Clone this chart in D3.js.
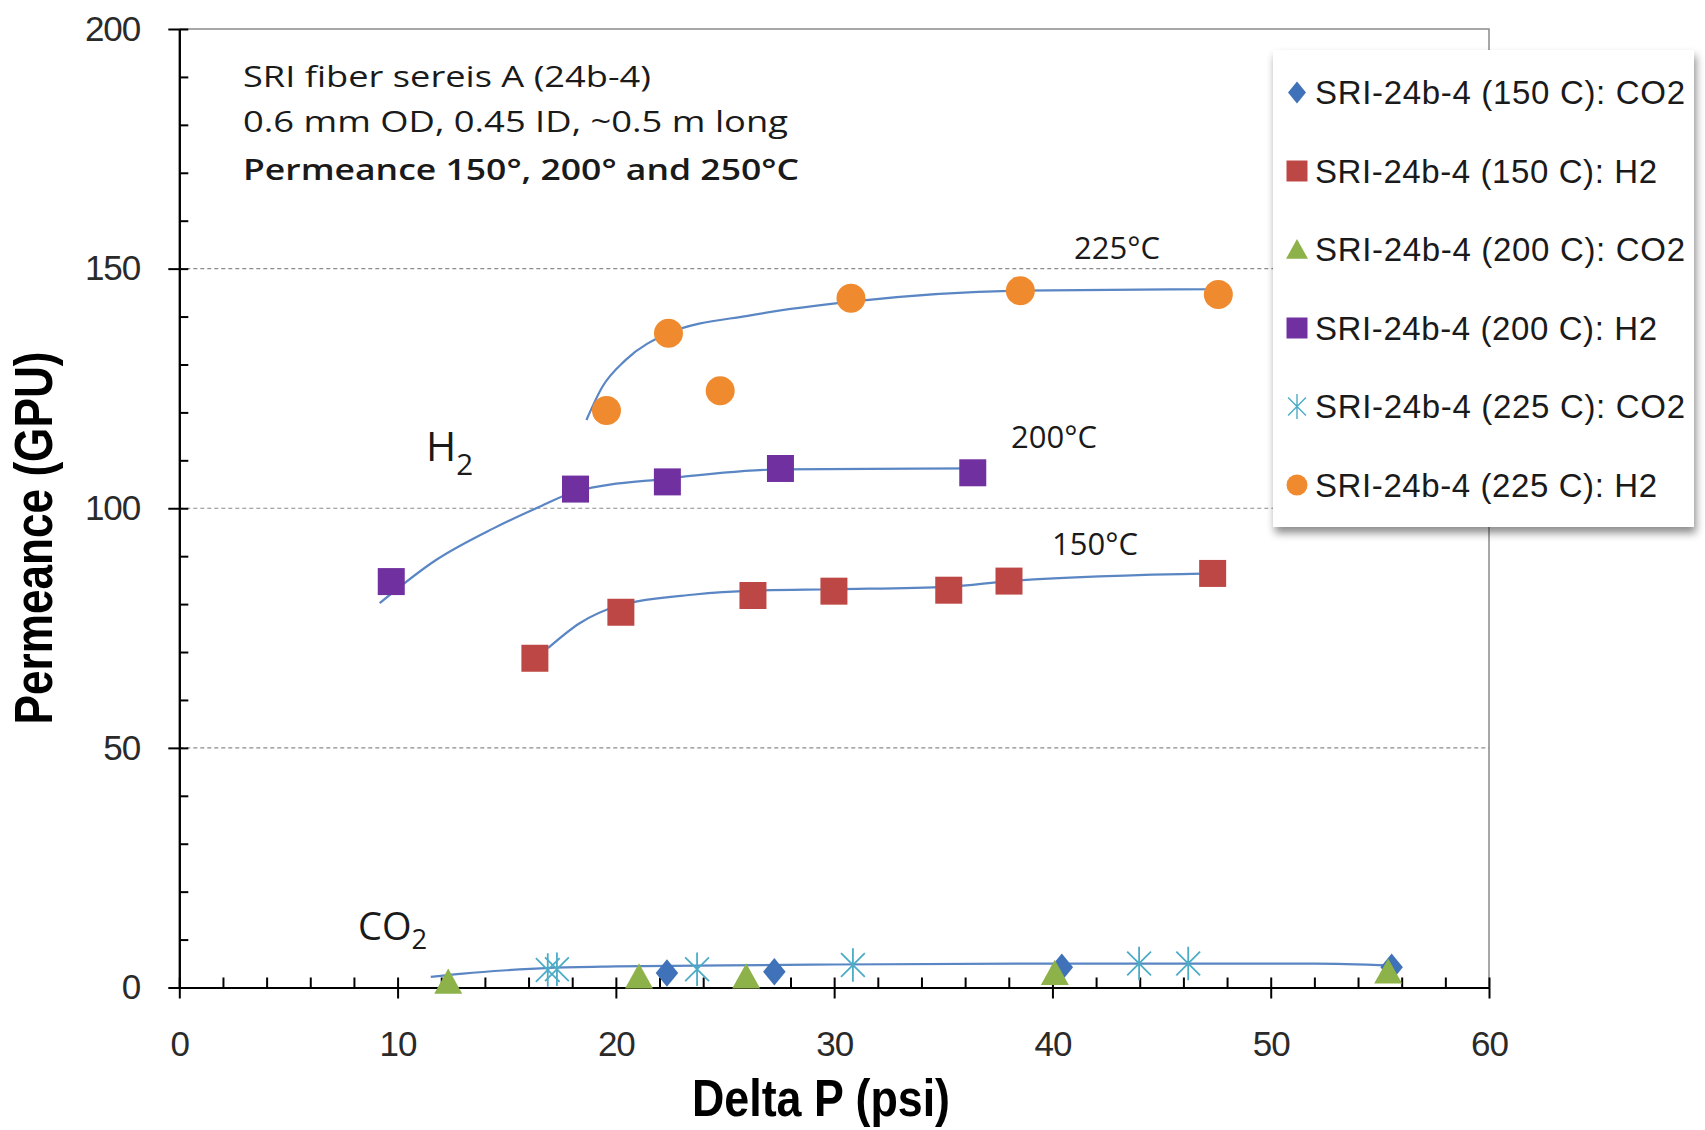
<!DOCTYPE html>
<html>
<head>
<meta charset="utf-8">
<script src="https://cdn.jsdelivr.net/npm/d3@7"></script>
<style>
body { margin: 0; background: #fff; }
svg { display: block; }
</style>
</head>
<body>
<script>
// ---- data ----
var xTickValues = [0, 10, 20, 30, 40, 50, 60];
var yTickValues = [0, 50, 100, 150, 200];
var gridValues = [50, 100, 150];

var co2At150 = [[22.34, 3.0], [27.26, 3.3], [40.43, 4.2], [55.54, 4.2]];
var h2At150 = [[16.29, 68.7], [20.23, 78.3], [26.28, 81.8], [29.99, 82.7], [35.25, 82.9], [38.01, 84.8], [47.34, 86.4]];
var co2At200 = [[12.32, 1.2], [21.06, 2.3], [25.97, 2.3], [40.11, 3.0], [55.38, 3.3]];
var h2At200 = [[9.71, 84.7], [18.15, 104.0], [22.36, 105.5], [27.54, 108.3], [36.35, 107.4]];
var co2At225 = [[16.88, 3.65], [17.3, 3.8], [23.72, 3.8], [30.86, 4.7], [43.97, 5.0], [46.22, 5.0]];
var h2At225 = [[19.57, 120.4], [22.41, 136.5], [24.78, 124.5], [30.77, 143.8], [38.53, 145.4], [47.6, 144.6]];

// trend lines (Excel fits)
var trend150 = [[16.89, 70.8], [18.34, 76.0], [20.23, 79.8], [23.6, 82.0], [26.28, 82.8], [29.99, 83.1], [35.25, 83.6], [38.0, 84.8], [47.34, 86.4]];
var trend200 = [[9.18, 80.2], [11.76, 89.2], [14.39, 95.8], [16.5, 100.3], [18.15, 103.5], [22.36, 106.2], [27.54, 108.1], [36.35, 108.3]];
var trend225 = [[18.65, 118.4], [19.39, 125.4], [20.44, 130.9], [22.41, 136.5], [26.23, 140.3], [30.77, 143.1], [38.53, 145.4], [47.6, 145.7]];
var trendCO2 = [[11.52, 2.2], [13, 2.9], [15, 3.6], [17, 4.1], [20, 4.4], [25, 4.6], [30, 4.8], [40, 5.0], [52, 5.0], [55.5, 4.6]];

var seriesNames = [
	"SRI-24b-4 (150 C): CO2",
	"SRI-24b-4 (150 C): H2",
	"SRI-24b-4 (200 C): CO2",
	"SRI-24b-4 (200 C): H2",
	"SRI-24b-4 (225 C): CO2",
	"SRI-24b-4 (225 C): H2"
];
var noteLines = ["SRI fiber sereis A (24b-4)", "0.6 mm OD, 0.45 ID, ~0.5 m long", "Permeance 150°, 200° and 250°C"];

var series = [
	{ name: seriesNames[0], data: co2At150, shape: "diamond", color: "#3f72b8" },
	{ name: seriesNames[1], data: h2At150, shape: "square", color: "#bd4745" },
	{ name: seriesNames[2], data: co2At200, shape: "triangle", color: "#8db24a" },
	{ name: seriesNames[3], data: h2At200, shape: "square", color: "#7030a0" },
	{ name: seriesNames[4], data: co2At225, shape: "star", color: "#4bacc6" },
	{ name: seriesNames[5], data: h2At225, shape: "circle", color: "#f08a2e" }
];

// ---- layout ----
var W = 1705, H = 1130;
var plotLeft = 179.3, plotRight = 1489, plotTop = 29, plotBottom = 987.5;

var svg = d3.select("body").append("svg")
	.attr("width", W)
	.attr("height", H)
	.style("font-family", "'Liberation Sans', Arial, sans-serif");

var defs = svg.append("defs");
var shadow = defs.append("filter").attr("id", "shadow")
	.attr("x", "-10%").attr("y", "-10%").attr("width", "125%").attr("height", "125%");
shadow.append("feDropShadow")
	.attr("dx", 2).attr("dy", 6)
	.attr("stdDeviation", 4)
	.attr("flood-color", "#000")
	.attr("flood-opacity", 0.45);

var x = d3.scaleLinear().domain([0, 60]).range([plotLeft, plotRight]);
var y = d3.scaleLinear().domain([0, 200]).range([plotBottom, plotTop]);

// plot border (top and right)
svg.append("path")
	.attr("d", "M" + x(0) + "," + y(200) + "H" + x(60) + "V" + y(0))
	.attr("fill", "none")
	.attr("stroke", "#8a8a8a")
	.attr("stroke-width", 1.5);

// dashed grid
svg.selectAll(".grid")
	.data(gridValues)
	.enter().append("line")
	.attr("class", "grid")
	.attr("x1", x(0))
	.attr("x2", x(60))
	.attr("y1", function(d) { return y(d); })
	.attr("y2", function(d) { return y(d); })
	.attr("stroke", "#8c8c8c")
	.attr("stroke-width", 1.2)
	.style("stroke-dasharray", "4,3");

// axes
var xAxis = d3.axisBottom(x)
	.tickValues(xTickValues)
	.tickSizeInner(11)
	.tickSizeOuter(0)
	.tickPadding(33)
	.tickFormat(d3.format("d"));
var xMinor = d3.axisTop(x)
	.tickValues(d3.range(0, 61, 2))
	.tickSizeInner(10)
	.tickSizeOuter(0)
	.tickFormat("");

var yAxis = d3.axisLeft(y)
	.tickValues(yTickValues)
	.tickSizeInner(11)
	.tickSizeOuter(0)
	.tickPadding(28)
	.tickFormat(d3.format("d"));
var yMinor = d3.axisRight(y)
	.tickValues(d3.range(0, 201, 10))
	.tickSizeInner(9)
	.tickSizeOuter(0)
	.tickFormat("");

[
	[xMinor, "translate(0," + plotBottom + ")"],
	[yMinor, "translate(" + plotLeft + ",0)"],
	[xAxis, "translate(0," + plotBottom + ")"],
	[yAxis, "translate(" + plotLeft + ",0)"]
].forEach(function(a) {
	var g = svg.append("g")
		.attr("transform", a[1])
		.call(a[0]);
	g.selectAll("path, line")
		.attr("stroke", "#000")
		.attr("stroke-width", 2);
	g.selectAll("text")
		.attr("fill", "#2a2a2a")
		.style("font-family", "'Liberation Sans', Arial, sans-serif")
		.style("font-size", "35px")
		.style("letter-spacing", "-1px");
});

// trend lines
var lineDraw = d3.line()
	.x(function(d) { return x(d[0]); })
	.y(function(d) { return y(d[1]); })
	.curve(d3.curveMonotoneX);

[trend150, trend200, trend225, trendCO2].forEach(function(t) {
	svg.append("path")
		.datum(t)
		.attr("fill", "none")
		.attr("stroke", "#5a86c4")
		.attr("stroke-width", 2.2)
		.attr("d", lineDraw);
});

// markers
function markerPath(shape, s) {
	var h = s / 2;
	if (shape === "square") return "M" + (-h) + "," + (-h) + "H" + h + "V" + h + "H" + (-h) + "Z";
	if (shape === "diamond") return "M0," + (-h * 1.1) + "L" + (h * 0.9) + ",0L0," + (h * 1.1) + "L" + (-h * 0.9) + ",0Z";
	if (shape === "triangle") return "M0," + (-h * 0.95) + "L" + h + "," + (h * 0.85) + "L" + (-h) + "," + (h * 0.85) + "Z";
	if (shape === "circle") return d3.arc()({ innerRadius: 0, outerRadius: h, startAngle: 0, endAngle: 2 * Math.PI });
	if (shape === "star") {
		var a = h * 0.85, v = h * 1.2;
		return "M0," + (-v) + "V" + v +
			"M" + (-a) + "," + (-a) + "L" + a + "," + a +
			"M" + a + "," + (-a) + "L" + (-a) + "," + a;
	}
	return "";
}

var markerSize = { square: 27, diamond: 25, triangle: 28, circle: 29, star: 28 };

series.forEach(function(s) {
	var star = s.shape === "star";
	svg.append("g").selectAll("path")
		.data(s.data)
		.enter().append("path")
		.attr("transform", function(d) { return "translate(" + x(d[0]) + "," + y(d[1]) + ")"; })
		.attr("d", markerPath(s.shape, markerSize[s.shape]))
		.attr("fill", star ? "none" : s.color)
		.attr("stroke", star ? s.color : "none")
		.attr("stroke-width", star ? 1.8 : 0);
});

// notes
var noteFont = "'Open Sans', Lato, 'Liberation Sans', sans-serif";
var noteWidths = [408, 545, 556];
var noteBase = [87, 132, 180];
noteLines.forEach(function(t, i) {
	svg.append("text")
		.attr("x", 243)
		.attr("y", noteBase[i])
		.attr("textLength", noteWidths[i])
		.attr("lengthAdjust", "spacingAndGlyphs")
		.style("font-family", noteFont)
		.style("font-size", "29px")
		.style("font-weight", i === 2 ? 600 : 400)
		.attr("fill", "#1a1a1a")
		.text(t);
});

function label(txt, px, py, size) {
	svg.append("text")
		.attr("x", px)
		.attr("y", py)
		.style("font-family", noteFont)
		.style("font-size", size + "px")
		.attr("fill", "#1a1a1a")
		.text(txt);
}
label("225°C", 1074, 259, 31);
label("200°C", 1011, 448, 31);
label("150°C", 1052, 555, 31);

function chem(base, sub, px, py, size, subDy) {
	var t = svg.append("text")
		.attr("x", px)
		.attr("y", py)
		.style("font-family", noteFont)
		.style("font-size", size + "px")
		.attr("fill", "#1a1a1a");
	t.append("tspan").text(base);
	t.append("tspan")
		.attr("dy", subDy)
		.style("font-size", (size * 0.72) + "px")
		.text(sub);
}
chem("H", "2", 426, 461, 41, 14);
chem("CO", "2", 358, 940, 38, 9);

// axis titles
svg.append("text")
	.attr("x", 821)
	.attr("y", 1116)
	.attr("text-anchor", "middle")
	.attr("textLength", 258)
	.attr("lengthAdjust", "spacingAndGlyphs")
	.style("font-weight", "bold")
	.style("font-size", "52px")
	.text("Delta P (psi)");

svg.append("text")
	.attr("transform", "translate(52,538) rotate(-90)")
	.attr("text-anchor", "middle")
	.attr("textLength", 373)
	.attr("lengthAdjust", "spacingAndGlyphs")
	.style("font-weight", "bold")
	.style("font-size", "53px")
	.text("Permeance (GPU)");

// legend
var legend = svg.append("g");
legend.append("rect")
	.attr("x", 1273)
	.attr("y", 50)
	.attr("width", 421)
	.attr("height", 477)
	.attr("fill", "#fff")
	.attr("filter", "url(#shadow)");

var rowY = d3.scaleLinear().domain([0, series.length - 1]).range([92.5, 485]);
var legendSize = { square: 21, diamond: 20, triangle: 22, circle: 21, star: 21 };

series.forEach(function(s, i) {
	var star = s.shape === "star";
	legend.append("path")
		.attr("transform", "translate(1297," + rowY(i) + ")")
		.attr("d", markerPath(s.shape, legendSize[s.shape]))
		.attr("fill", star ? "none" : s.color)
		.attr("stroke", star ? s.color : "none")
		.attr("stroke-width", star ? 1.4 : 0);
	legend.append("text")
		.attr("x", 1315)
		.attr("y", rowY(i))
		.attr("dy", "0.36em")
		.attr("textLength", s.name.indexOf("CO2") > 0 ? 370 : 342)
		.attr("lengthAdjust", "spacing")
		.style("font-size", "33px")
		.attr("fill", "#1a1a1a")
		.text(s.name);
});
</script>
</body>
</html>
